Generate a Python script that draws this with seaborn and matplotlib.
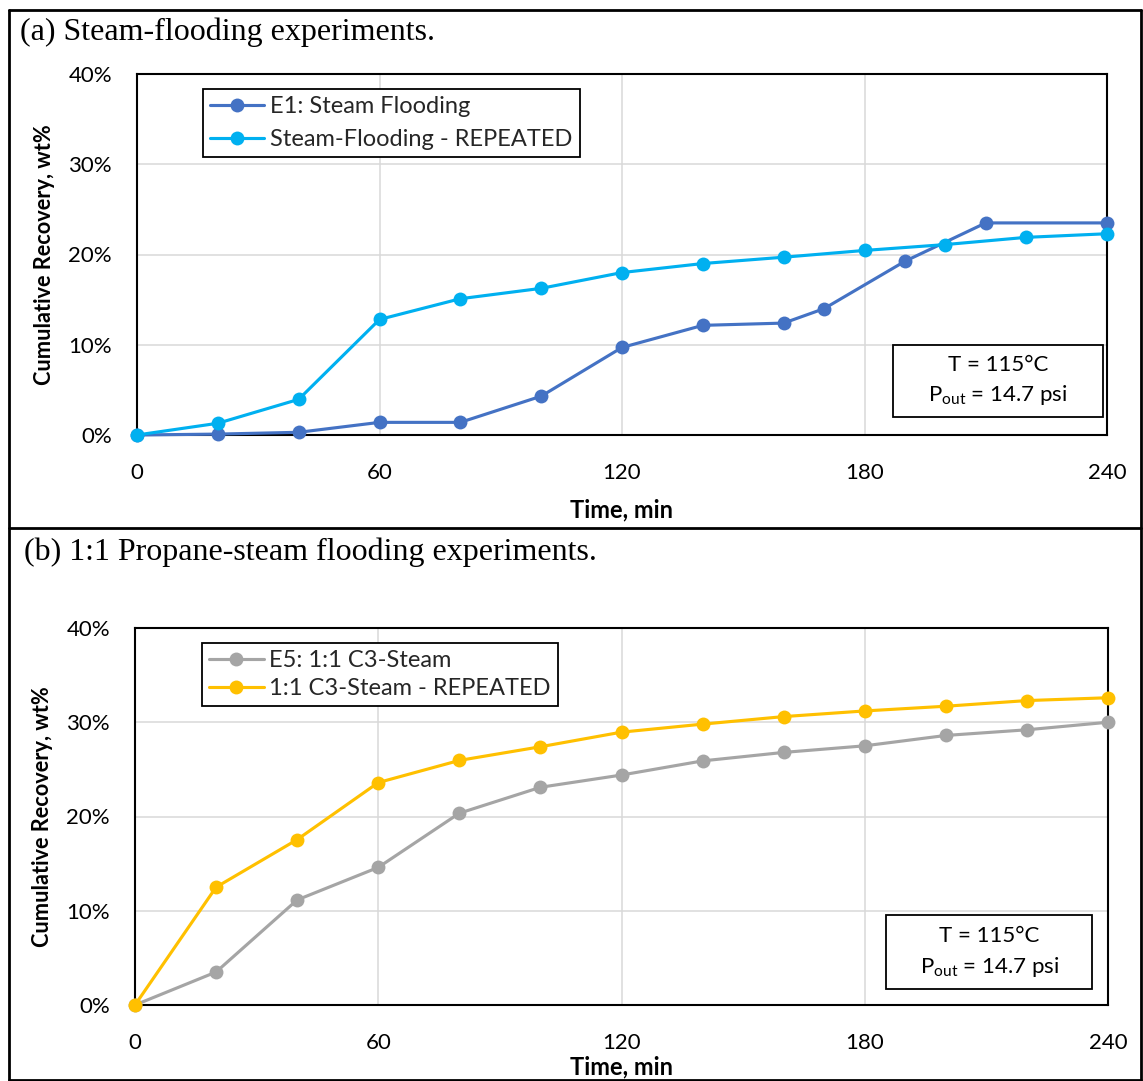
import matplotlib
matplotlib.use("Agg")
import matplotlib.pyplot as plt
import seaborn as sns
import pandas as pd
from matplotlib.ticker import PercentFormatter, FixedLocator
from matplotlib.patches import Rectangle
from matplotlib.lines import Line2D

# ---------------- data ----------------
time_e1 = [0, 20, 40, 60, 80, 100, 120, 140, 160, 170, 190, 210, 240]
rec_e1 = [0.0, 0.1, 0.3, 1.4, 1.4, 4.3, 9.7, 12.15, 12.4, 14.0, 19.25, 23.5, 23.5]
time_sf_rep = [0, 20, 40, 60, 80, 100, 120, 140, 160, 180, 200, 220, 240]
rec_sf_rep = [0.0, 1.3, 3.95, 12.8, 15.1, 16.25, 18.0, 19.0, 19.7, 20.45, 21.1, 21.9, 22.3]

time_e5 = [0, 20, 40, 60, 80, 100, 120, 140, 160, 180, 200, 220, 240]
rec_e5 = [0.0, 3.5, 11.15, 14.6, 20.35, 23.1, 24.4, 25.9, 26.8, 27.5, 28.6, 29.2, 30.0]
time_c3_rep = [0, 20, 40, 60, 80, 100, 120, 140, 160, 180, 200, 220, 240]
rec_c3_rep = [0.0, 12.5, 17.55, 23.6, 25.95, 27.4, 28.95, 29.8, 30.6, 31.2, 31.7, 32.3, 32.6]

series_a = ["E1: Steam Flooding", "Steam-Flooding - REPEATED"]
series_b = ["E5: 1:1 C3-Steam", "1:1 C3-Steam - REPEATED"]
colors_a = ["#4472C4", "#00B0F0"]
colors_b = ["#A5A5A5", "#FFC000"]

x_ticks = [0, 60, 120, 180, 240]
y_ticks = [0, 10, 20, 30, 40]
titles = ["(a) Steam-flooding experiments.", "(b) 1:1 Propane-steam flooding experiments."]
x_label = "Time, min"
y_label = "Cumulative Recovery, wt%"
note_t = "T = 115°C"
note_p = r"P$_{\mathregular{out}}$ = 14.7 psi"

df_a = pd.concat([
    pd.DataFrame({"time": time_e1, "rec": rec_e1, "series": series_a[0]}),
    pd.DataFrame({"time": time_sf_rep, "rec": rec_sf_rep, "series": series_a[1]}),
])
df_b = pd.concat([
    pd.DataFrame({"time": time_e5, "rec": rec_e5, "series": series_b[0]}),
    pd.DataFrame({"time": time_c3_rep, "rec": rec_c3_rep, "series": series_b[1]}),
])

# ---------------- style ----------------
sns.set_theme(style="white")
plt.rcParams["font.family"] = ["Lato", "DejaVu Sans"]
plt.rcParams["mathtext.default"] = "regular"

W, H = 1143, 1081
fig = plt.figure(figsize=(W / 100, H / 100), dpi=100)

def px_axes(l, t, r, b):
    return [l / W, 1 - b / H, (r - l) / W, (b - t) / H]

ax_a = fig.add_axes(px_axes(137, 74, 1107, 435))
ax_b = fig.add_axes(px_axes(135, 628, 1108, 1005))

def style_axes(ax, df, series, colors, legend_fs, leg_anchor, box, xlab_y, spacing):
    sns.lineplot(data=df, x="time", y="rec", hue="series", hue_order=series,
                 palette=colors, marker="o", markersize=10, markeredgewidth=0,
                 linewidth=2.25, estimator=None, sort=False, ax=ax, clip_on=False,
                 zorder=5)
    ax.set_xlim(0, 240)
    ax.set_ylim(0, 40)
    ax.xaxis.set_major_locator(FixedLocator(x_ticks))
    ax.yaxis.set_major_locator(FixedLocator(y_ticks))
    ax.yaxis.set_major_formatter(PercentFormatter(xmax=100, decimals=0))
    ax.grid(True, color="#D9D9D9", linewidth=1.1)
    ax.set_axisbelow(True)
    for s in ax.spines.values():
        s.set_visible(True)
        s.set_color("black")
        s.set_linewidth(1.5)
    ax.tick_params(axis="both", length=0, labelsize=16, colors="black")
    ax.tick_params(axis="x", pad=20)
    ax.tick_params(axis="y", pad=18)
    ax.set_xlabel(x_label, fontsize=17, fontweight="bold", color="black")
    ax.xaxis.label.set_va("center")
    ax.xaxis.set_label_coords(0.5, xlab_y)
    ax.set_ylabel(y_label, fontsize=15.7, fontweight="bold", color="black")
    ax.yaxis.label.set_va("center")
    ax.yaxis.set_label_coords(-0.095, 0.5)
    handles, labels = ax.get_legend_handles_labels()
    leg = ax.legend(handles, labels, loc="upper left", bbox_to_anchor=leg_anchor,
                    fontsize=legend_fs, frameon=True, fancybox=False,
                    edgecolor="black", framealpha=1, handlelength=2.3,
                    handletextpad=0.25, labelspacing=spacing, borderpad=0.3,
                    borderaxespad=0)
    leg.get_frame().set_linewidth(1.3)
    x0, y0, x1, y1 = box
    ax.add_patch(Rectangle((x0, y0), x1 - x0, y1 - y0, transform=ax.transAxes,
                           facecolor="white", edgecolor="black", linewidth=1.3,
                           zorder=6))
    cx = (x0 + x1) / 2
    h = y1 - y0
    ax.text(cx, y0 + h * 0.72, note_t, transform=ax.transAxes, ha="center",
            va="center", fontsize=16, color="black", zorder=7)
    ax.text(cx, y0 + h * 0.30, note_p, transform=ax.transAxes, ha="center",
            va="center", fontsize=16, color="black", zorder=7)

style_axes(ax_a, df_a, series_a, colors_a, 17, (0.068, 0.958),
           (0.779, 0.050, 0.996, 0.249), -0.208, 0.5)
style_axes(ax_b, df_b, series_b, colors_b, 17, (0.069, 0.960),
           (0.772, 0.042, 0.984, 0.239), -0.1645, 0.3)

# ---------------- frame and titles ----------------
lw = 2.0
frame_l, frame_r, frame_t, frame_b, frame_mid = 9, 1141, 10, 1080, 528
def fline(x0, y0, x1, y1):
    fig.add_artist(Line2D([x0 / W, x1 / W], [1 - y0 / H, 1 - y1 / H],
                          transform=fig.transFigure, color="black", linewidth=lw))
fline(frame_l, frame_t, frame_r, frame_t)
fline(frame_l, frame_mid, frame_r, frame_mid)
fline(frame_l, frame_t, frame_l, frame_b)
fline(frame_r, frame_t, frame_r, frame_b)
fline(frame_l, frame_b, frame_r, frame_b)

fig.text(20 / W, 1 - 32 / H, titles[0], fontsize=23, family="Liberation Serif",
         ha="left", va="center", color="black")
fig.text(24 / W, 1 - 552 / H, titles[1], fontsize=23, family="Liberation Serif",
         ha="left", va="center", color="black")

fig.savefig("out.png", dpi=100, facecolor="white")
